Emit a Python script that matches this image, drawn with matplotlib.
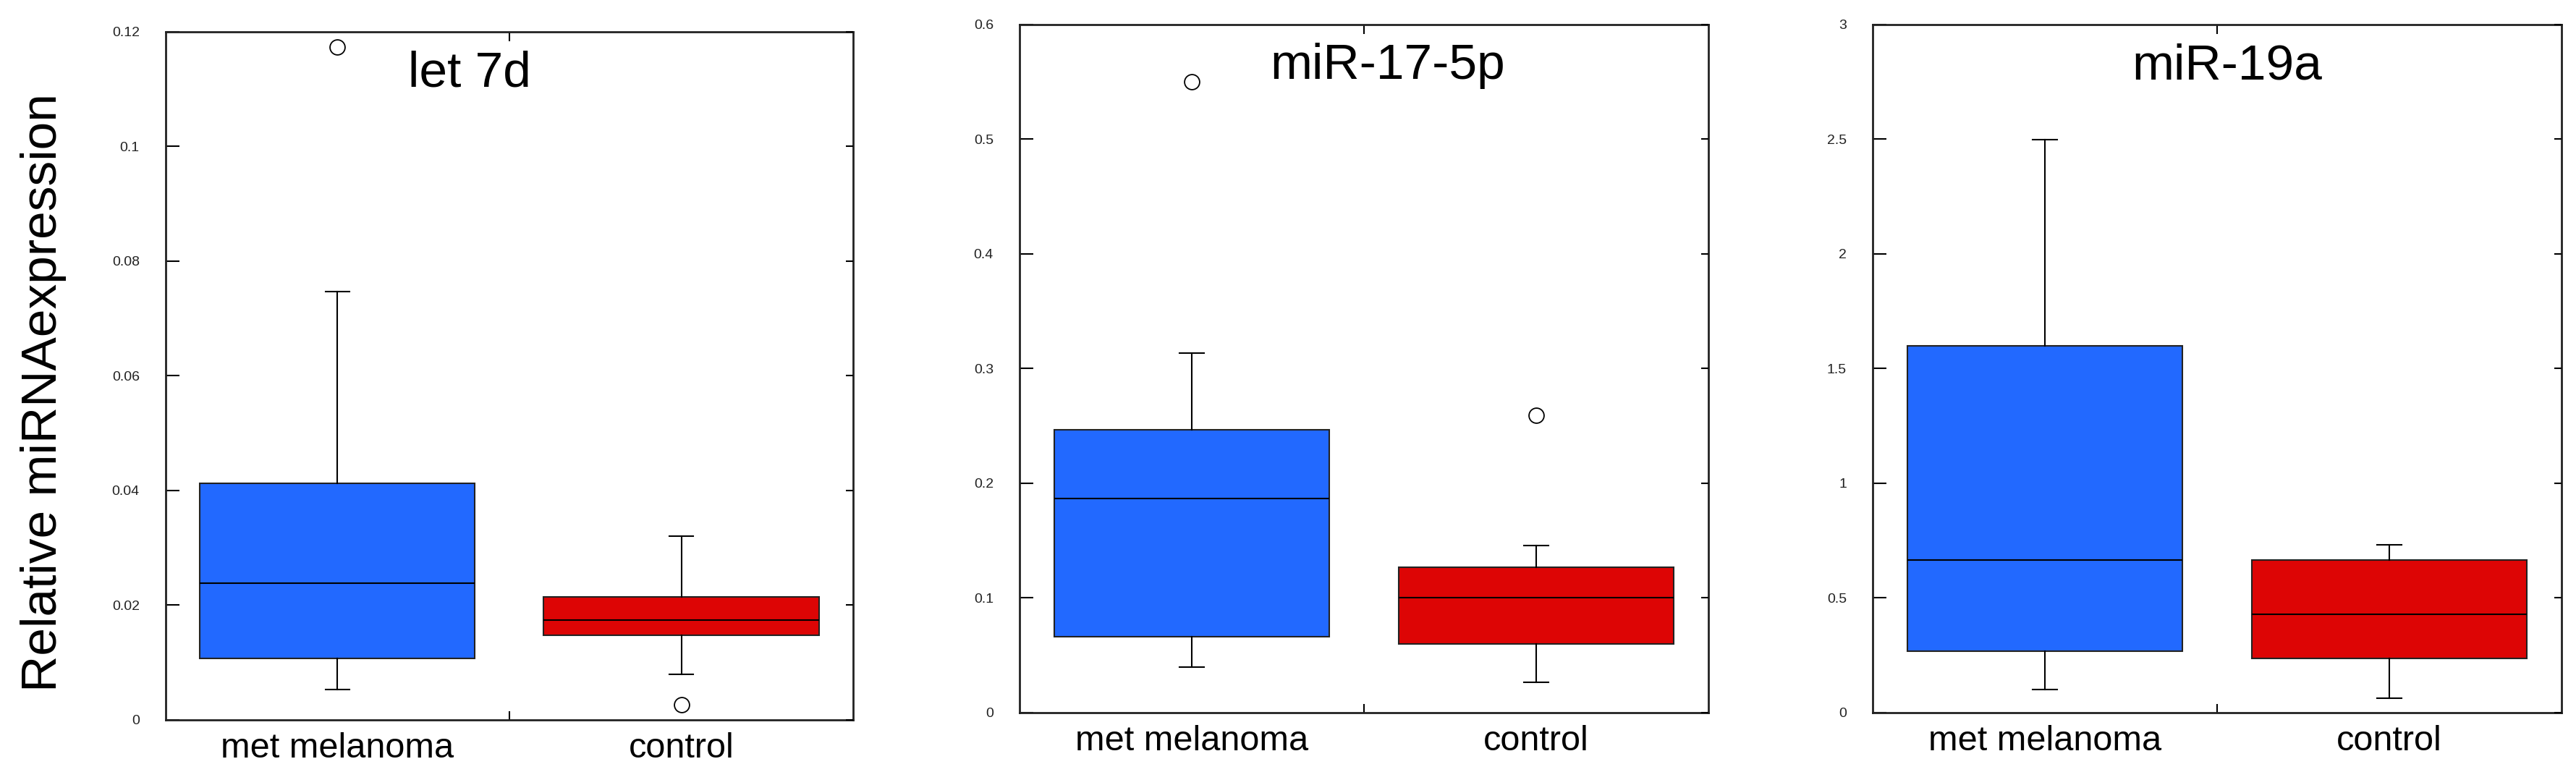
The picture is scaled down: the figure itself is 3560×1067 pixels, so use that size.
import numpy as np
import matplotlib
matplotlib.use("Agg")
import matplotlib.pyplot as plt
from matplotlib.ticker import FuncFormatter, FixedLocator

plt.rcParams["font.family"] = ["Liberation Sans", "DejaVu Sans"]

# values
mirnas = ["let 7d", "miR-17-5p", "miR-19a"]
groups = ["met melanoma", "control"]
ymax = [0.12, 0.6, 3.0]
ystep = [0.02, 0.1, 0.5]

medians = [[0.0239, 0.0174], [0.187, 0.100], [0.667, 0.429]]
q1 = [[0.0107, 0.0148], [0.066, 0.060], [0.268, 0.236]]
q3 = [[0.0413, 0.0214], [0.2466, 0.1265], [1.598, 0.667]]
whislo = [[0.0053, 0.0079], [0.0395, 0.0266], [0.101, 0.062]]
whishi = [[0.0747, 0.0321], [0.3135, 0.146], [2.498, 0.731]]
fliers = [[[0.1173], [0.0026]], [[0.550], [0.2595]], [[], []]]

colors = ["#2269ff", "#dd0505"]
title_x = [0.442, 0.534, 0.514]

fig = plt.figure(figsize=(35.6, 10.67), dpi=100)
axes_rects = [
    [0.0643, 0.0675, 0.2669, 0.8913],
    [0.3958, 0.0769, 0.2674, 0.8913],
    [0.7270, 0.0769, 0.2674, 0.8913],
]

fmt = FuncFormatter(lambda v, p: "%g" % round(v, 4))

for i in range(3):
    ax = fig.add_axes(axes_rects[i])
    stats = []
    for j in range(2):
        stats.append({
            "med": medians[i][j], "q1": q1[i][j], "q3": q3[i][j],
            "whislo": whislo[i][j], "whishi": whishi[i][j],
            "fliers": fliers[i][j], "label": groups[j],
        })
    bp = ax.bxp(stats, positions=[1, 2], widths=0.8, capwidths=0.07,
                patch_artist=True,
                boxprops=dict(edgecolor="#222222", linewidth=1.5),
                medianprops=dict(color="black", linewidth=1.5),
                whiskerprops=dict(color="black", linewidth=1.5),
                capprops=dict(color="black", linewidth=1.5),
                flierprops=dict(marker="o", markersize=15, markerfacecolor="white",
                                markeredgecolor="black", markeredgewidth=1.3))
    for patch, c in zip(bp["boxes"], colors):
        patch.set_facecolor(c)

    ax.set_xlim(0.5, 2.5)
    ax.set_ylim(0, ymax[i])
    yt = np.arange(0, ymax[i] + ystep[i] / 2, ystep[i])
    ax.set_yticks(yt)
    ax.yaxis.set_major_formatter(fmt)
    ax.tick_params(axis="y", direction="in", length=14, width=1.5, pad=26,
                   labelsize=14, labelcolor="#222222")
    ax.set_xticks([1, 2])
    ax.set_xticklabels(groups)
    ax.tick_params(axis="x", which="major", length=0, pad=12, labelsize=35)
    ax.xaxis.set_minor_locator(FixedLocator([1.5]))
    ax.tick_params(axis="x", which="minor", direction="in", length=9, width=1.5,
                   top=True, bottom=True)
    for s in ax.spines.values():
        s.set_linewidth(2)
        s.set_color("#222222")

    # right-hand ticks, shorter
    ax2 = ax.twinx()
    ax2.set_ylim(0, ymax[i])
    ax2.set_yticks(yt)
    ax2.tick_params(axis="y", direction="in", length=7, width=1.5, labelright=False)
    for s in ax2.spines.values():
        s.set_visible(False)

    ax.text(title_x[i], 0.921, mirnas[i], transform=ax.transAxes, ha="center",
            va="baseline", fontsize=50)

fig.text(60 / 3560, 1 - 543 / 1067, "Relative miRNAexpression", rotation=90,
         ha="center", va="center", fontsize=50)

fig.savefig("out.png", dpi=100)
